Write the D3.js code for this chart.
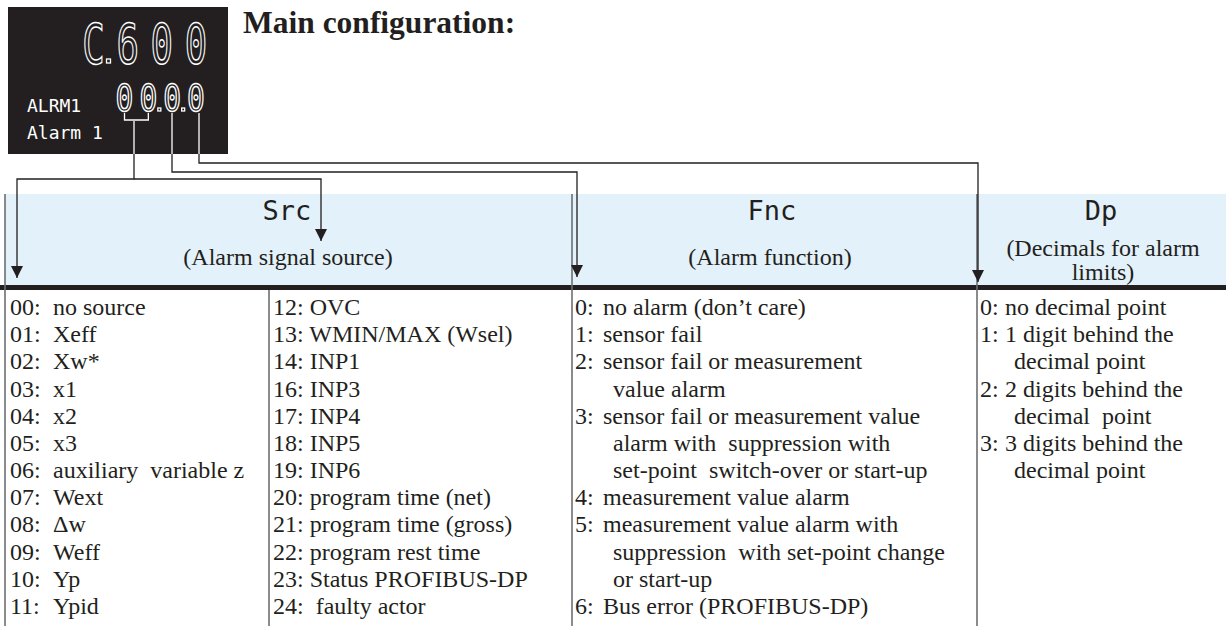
<!DOCTYPE html>
<html><head><meta charset="utf-8">
<script src="https://cdn.jsdelivr.net/npm/d3@7"></script>
<style>body{margin:0;background:#fff} svg{display:block} text{white-space:pre}</style>
</head><body><svg id="c" width="1226" height="626"></svg>
<script>
// ---- data ----
const displayTop = ["C", ".", "6", "0", "0"];
const displayBottom = ["0", "0", ".", "0", ".", "0"];
const displayLabels = ["ALRM1", "Alarm 1"];
const title = "Main configuration:";
const headerCodes = ["Src", "Fnc", "Dp"];
const headerDescs = [["(Alarm signal source)"], ["(Alarm function)"], ["(Decimals for alarm", "limits)"]];
const srcCodes1 = ["00:", "01:", "02:", "03:", "04:", "05:", "06:", "07:", "08:", "09:", "10:", "11:"];
const srcNames1 = ["no source", "Xeff", "Xw*", "x1", "x2", "x3", "auxiliary  variable z", "Wext", "\u0394w", "Weff", "Yp", "Ypid"];
const srcItems2 = ["12: OVC", "13: WMIN/MAX (Wsel)", "14: INP1", "16: INP3", "17: INP4", "18: INP5", "19: INP6",
  "20: program time (net)", "21: program time (gross)", "22: program rest time", "23: Status PROFIBUS-DP", "24:  faulty actor"];
const fncNums = ["0:", "1:", "2:", "", "3:", "", "", "4:", "5:", "", "", "6:"];
const fncLines = ["no alarm (don\u2019t care)", "sensor fail", "sensor fail or measurement", "value alarm",
  "sensor fail or measurement value", "alarm with  suppression with", "set-point  switch-over or start-up",
  "measurement value alarm", "measurement value alarm with", "suppression  with set-point change", "or start-up",
  "Bus error (PROFIBUS-DP)"];
const dpNums = ["0:", "1:", "", "2:", "", "3:", ""];
const dpLines = ["no decimal point", "1 digit behind the", "decimal point", "2 digits behind the", "decimal  point",
  "3 digits behind the", "decimal point"];

// ---- layout ----
const W = 1226, H = 626;
const svg = d3.select("#c");
const serif = "'Liberation Serif','Times New Roman',serif";
const mono = "'DejaVu Sans Mono',monospace";
const ink = "#231f20";
const bandTop = 194, ruleY = 285, ruleH = 5;
const colX = [5, 269, 572, 977];           // column dividers
const rowY = d3.scaleLinear().domain([0, 11]).range([315, 614]);

// header band
svg.append("rect").attr("x", colX[0]).attr("y", bandTop).attr("width", W - colX[0]).attr("height", ruleY - bandTop).attr("fill", "#e3f1fa");
svg.append("rect").attr("x", 0).attr("y", ruleY).attr("width", W).attr("height", ruleH).attr("fill", ink);

// dividers
const dividers = [{x: colX[0], y0: bandTop}, {x: colX[1], y0: ruleY + ruleH}, {x: colX[2], y0: bandTop}, {x: colX[3], y0: bandTop}];
svg.selectAll("line.div").data(dividers).join("line").attr("class", "div")
  .attr("x1", d => d.x).attr("x2", d => d.x).attr("y1", d => d.y0).attr("y2", H)
  .attr("stroke", "#6d6e71").attr("stroke-width", 1.6);

// header texts
const headerCx = [287, 772, 1101];
svg.selectAll("text.hcode").data(headerCodes).join("text").attr("class", "hcode")
  .attr("x", (d, i) => headerCx[i]).attr("y", 220).attr("text-anchor", "middle")
  .attr("font-family", mono).attr("font-size", 27).attr("fill", ink).text(d => d);
const descCx = [288, 770, 1103];
headerDescs.forEach((lines, i) => {
  const y0 = lines.length > 1 ? 256 : 265;
  svg.append("g").selectAll("text").data(lines).join("text")
    .attr("x", descCx[i]).attr("y", (d, j) => y0 + j * 24).attr("text-anchor", "middle")
    .attr("font-family", serif).attr("font-size", 24).attr("fill", ink).text(d => d);
});

// body text
const fs = 24;
function col(data, x, fn) {
  svg.append("g").selectAll("text").data(data).join("text")
    .attr("x", x).attr("y", (d, i) => rowY(i))
    .attr("font-family", serif).attr("font-size", fs).attr("fill", ink).text(fn || (d => d));
}
col(srcCodes1, 10);
col(srcNames1, 53);
col(srcItems2, 273);
col(fncNums, 575);
svg.append("g").selectAll("text").data(fncLines).join("text")
  .attr("x", (d, i) => fncNums[i] ? 603 : 613).attr("y", (d, i) => rowY(i))
  .attr("font-family", serif).attr("font-size", fs).attr("fill", ink).text(d => d);
col(dpNums, 980);
svg.append("g").selectAll("text").data(dpLines).join("text")
  .attr("x", (d, i) => dpNums[i] ? 1005 : 1014).attr("y", (d, i) => rowY(i))
  .attr("font-family", serif).attr("font-size", fs).attr("fill", ink).text(d => d);

// title
svg.append("text").attr("x", 243).attr("y", 33).attr("font-family", serif).attr("font-weight", "bold")
  .attr("font-size", 31.5).attr("fill", ink).text(title);

// display box
svg.append("rect").attr("x", 8).attr("y", 7).attr("width", 220).attr("height", 147).attr("fill", ink);
function drawDigits(chars, slotX, baseY, size, sx, dotOff, dotSize) {
  let slot = -1;
  chars.forEach(c => {
    if (c === ".") {
      const x = slotX(slot) + dotOff;
      svg.append("rect").attr("x", x - dotSize / 2).attr("y", baseY - dotSize).attr("width", dotSize).attr("height", dotSize)
        .attr("fill", "none").attr("stroke", "#fff").attr("stroke-width", 1.3);
    } else {
      slot++;
      const x = slotX(slot);
      svg.append("text").attr("transform", `translate(${x},${baseY}) scale(${sx},1)`)
        .attr("text-anchor", "middle").attr("font-family", mono).attr("font-size", size)
        .attr("fill", "none").attr("stroke", "#fff").attr("stroke-width", 1.5).text(c);
    }
  });
}
const topX = d3.scaleLinear().domain([0, 3]).range([93.5, 196]);
const botX = d3.scaleLinear().domain([0, 3]).range([124.5, 196]);
drawDigits(displayTop, topX, 63, 55, 0.68, 15, 4);
drawDigits(displayBottom, botX, 111, 37, 0.8, 11, 3);
svg.selectAll("text.lbl").data(displayLabels).join("text").attr("class", "lbl")
  .attr("x", 27).attr("y", (d, i) => 112 + i * 27).attr("font-family", mono).attr("font-size", 18)
  .attr("fill", "#fff").text(d => d);

// connectors
const arrowTargets = [
  {pts: [[botX(0), 113], [botX(0), 120], [botX(1), 120], [botX(1), 113]], arrow: false},
  {pts: [[134, 120], [134, 179], [17, 179], [17, 278]], arrow: true},
  {pts: [[134, 179], [321, 179], [321, 241]], arrow: true},
  {pts: [[172, 113], [172, 172], [577, 172], [577, 277]], arrow: true},
  {pts: [[199, 113], [199, 163], [978, 163], [978, 282]], arrow: true}
];
const line = d3.line();
svg.selectAll("path.conn").data(arrowTargets).join("path").attr("class", "conn")
  .attr("d", d => line(d.pts)).attr("fill", "none").attr("stroke", (d, i) => i === 0 ? "#fff" : ink).attr("stroke-width", 1.3);
svg.selectAll("path.connw").data(arrowTargets.slice(1)).join("path").attr("class", "connw")
  .attr("d", d => line(d.pts.filter(p => p[1] <= 154).concat([[d.pts[0][0], 154]]))).attr("fill", "none")
  .attr("stroke", "#fff").attr("stroke-width", 1.3);
svg.selectAll("path.head").data(arrowTargets.filter(d => d.arrow)).join("path").attr("class", "head")
  .attr("d", d => { const [x, y] = d.pts[d.pts.length - 1]; return `M${x - 6},${y - 12}L${x + 6},${y - 12}L${x},${y}Z`; })
  .attr("fill", ink);
</script></body></html>
